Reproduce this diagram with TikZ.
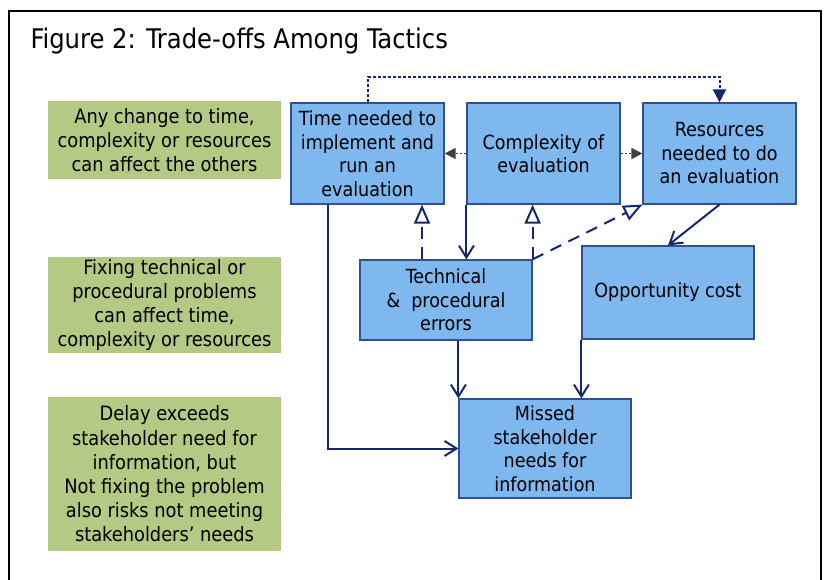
\documentclass[tikz,border=0pt]{standalone}
\usepackage{fontspec}
\setmainfont{DejaVu Sans Condensed}
\usetikzlibrary{arrows.meta}
\definecolor{boxblue}{RGB}{127,183,239}
\definecolor{boxedge}{RGB}{47,82,143}
\definecolor{notegreen}{RGB}{179,201,132}
\definecolor{navy}{RGB}{18,42,108}
\definecolor{darkgray}{RGB}{64,64,64}
\tikzset{
  box/.style = {
    rectangle, draw=boxedge, line width=1.2pt, fill=boxblue,
    align=center, inner sep=2pt,
    font=\fontsize{19.5}{23.5}\selectfont
  },
  note/.style = {
    rectangle, fill=notegreen, minimum width=233pt,
    align=center, inner sep=2pt,
    font=\fontsize{19.8}{24.2}\selectfont
  },
  link/.style = {
    draw=navy, line width=2pt,
    -{Straight Barb[length=12pt,width=15pt,line width=2pt]}
  },
  effect/.style = {
    draw=navy, line width=2pt, dash pattern=on 12pt off 8pt,
    -{Triangle[length=19pt,width=16pt,fill=white,line width=2pt]}
  },
  trade/.style = {
    draw=darkgray, line width=1.5pt, dash pattern=on 2pt off 2pt,
    -{Triangle[length=11pt,width=11pt]}
  },
  loopback/.style = {
    draw=navy, line width=2pt, dash pattern=on 3pt off 2pt,
    -{Triangle[length=13pt,width=13pt]}
  }
}

\begin{document}
\begin{tikzpicture}[x=1pt, y=-1pt]

    \useasboundingbox (0,0) rectangle (826,580);

    % ---------------------------------------------------------------- Frame
    \draw [line width=2pt] (9,590) -- (9,11) -- (821,11) -- (821,590);
    \node [anchor=west, font=\fontsize{27}{31}\selectfont] (title) at (27,41)
      {Figure 2: Trade-offs Among Tactics};

    % ---------------------------------------------------------------- Notes
    \node [note, minimum height=78pt]  (note_change) at (164.5,140)
      {Any change to time,\\complexity or resources\\can affect the others};
    \node [note, minimum height=94pt]  (note_fix)    at (164.5,305)
      {Fixing technical or\\procedural problems\\can affect time,\\complexity or resources};
    \node [note, minimum height=154pt] (note_delay)  at (164.5,474)
      {Delay exceeds\\stakeholder need for\\information, but\\Not fixing the problem\\also risks not meeting\\stakeholders' needs};

    % ---------------------------------------------------------------- Tactics
    \node [box, minimum width=153pt, minimum height=101pt] (time)        at (367.5,153.5)
      {Time needed to\\implement and\\run an\\evaluation};
    \node [box, minimum width=153pt, minimum height=101pt] (complexity)  at (543.5,153.5)
      {Complexity of\\evaluation};
    \node [box, minimum width=153pt, minimum height=101pt] (resources)   at (719.5,153.5)
      {Resources\\needed to do\\an evaluation};

    % ---------------------------------------------------------------- Outcomes
    \node [box, minimum width=172pt, minimum height=80pt]  (technical)   at (446,300)
      {Technical\\\&\ \ procedural\\errors};
    \node [box, minimum width=172pt, minimum height=93pt]  (opportunity) at (668,292.5)
      {Opportunity cost};
    \node [box, minimum width=172pt, minimum height=99pt]  (missed)      at (545,448.5)
      {Missed\\stakeholder\\needs for\\information};

    % ---------------------------------------------------------------- Connectors
    \draw [loopback] (time.north) -- ++(0,-25) -| (resources.north);
    \draw [trade] (complexity.west) -- (time.east);
    \draw [trade] (complexity.east) -- (resources.west);

    \draw [link] ([xshift=-40pt]time.south) |- (missed.west);
    \draw [link] (complexity.south west) -- (complexity.south west |- technical.north);
    \draw [link] (resources.south) -- (opportunity.north);
    \draw [link] (missed.north west |- technical.south) -- (missed.north west);
    \draw [link] (opportunity.south west) -- (opportunity.south west |- missed.north);

    \draw [effect] ([xshift=-24pt]technical.north) -- ([xshift=-24pt]technical.north |- time.south);
    \draw [effect] (technical.north east) -- (technical.north east |- complexity.south);
    \draw [effect] (technical.north east) -- (resources.south west);

\end{tikzpicture}
\end{document}
